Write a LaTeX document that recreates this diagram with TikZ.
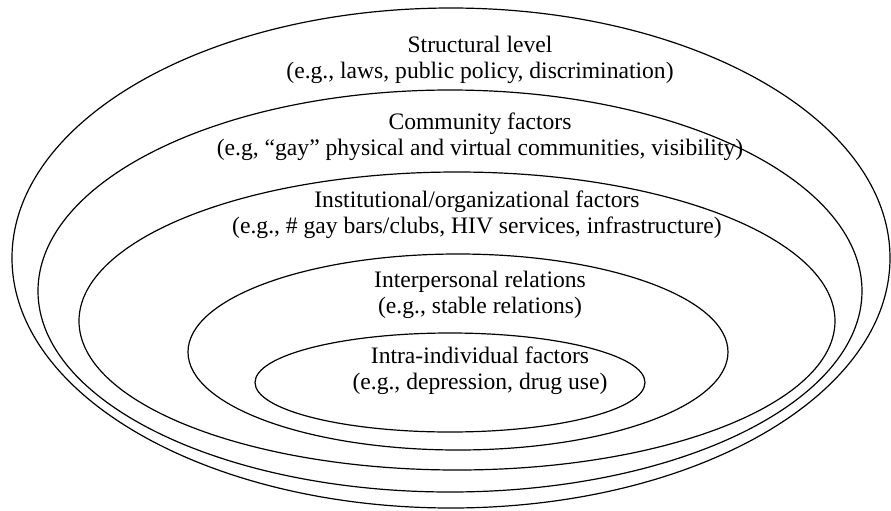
\documentclass[tikz,border=0pt]{standalone}
\usepackage{fontspec}
\setmainfont{Liberation Serif}
\usepackage{tikz}

\begin{document}
\begin{tikzpicture}[x=0.5pt, y=-0.5pt, line width=0.6pt,
  every node/.style={font=\fontsize{11.8}{13}\selectfont, align=center}]
\useasboundingbox (0,0) rectangle (891,510);
% nested levels, outermost first (centre x/y, radius x/y)
\foreach \cx/\cy/\rx/\ry in {451/258/439/250, 450/291/412/201, 457/321/378/149,
                             458/352/270/98, 450/382.5/195/49.5} {
  \draw (\cx,\cy) ellipse [x radius=\rx, y radius=\ry];
}
% level labels
\node (structural) at (480,60) {Structural level\\(e.g., laws, public policy, discrimination)};
\node (community) at (480,137) {Community factors\\(e.g, “gay” physical and virtual communities, visibility)};
\node (institutional) at (477,215) {Institutional/organizational factors\\(e.g., \# gay bars/clubs, HIV services, infrastructure)};
\node (interpersonal) at (480,295) {Interpersonal relations\\(e.g., stable relations)};
\node (intra) at (480,371) {Intra-individual factors\\(e.g., depression, drug use)};
\end{tikzpicture}
\end{document}
